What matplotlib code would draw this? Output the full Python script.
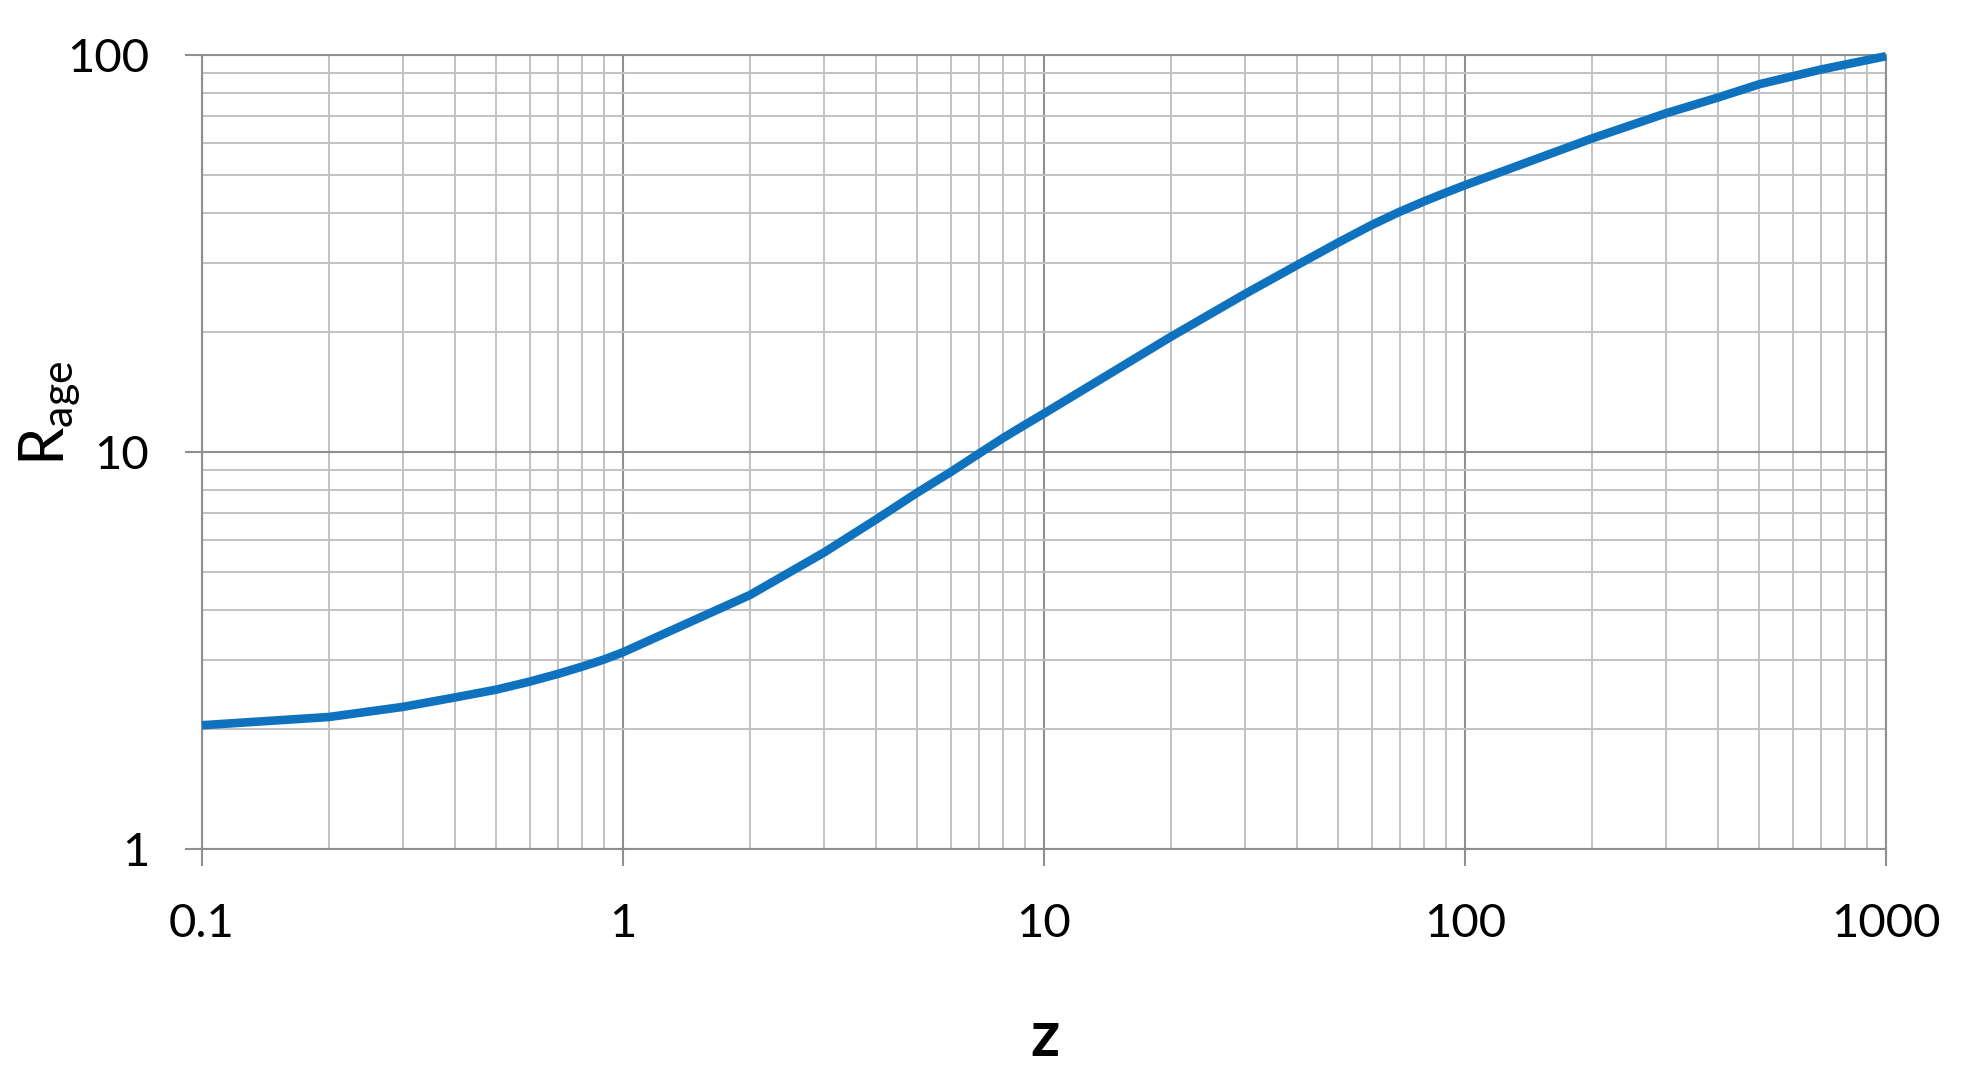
import matplotlib
matplotlib.use("Agg")
import matplotlib.pyplot as plt
from matplotlib.ticker import LogLocator, NullFormatter, FixedLocator, FixedFormatter

# ---- data ----
z_values = [0.1, 0.2, 0.3, 0.4, 0.5, 0.6, 0.7, 0.8, 0.9, 1,
            2, 3, 4, 5, 6, 7, 8, 9, 10,
            20, 30, 40, 50, 60, 70, 80, 90, 100,
            200, 300, 400, 500, 700, 1000]
r_age = [2.05, 2.15, 2.28, 2.41, 2.52, 2.64, 2.76, 2.88, 3.00, 3.13,
         4.36, 5.58, 6.77, 7.90, 8.90, 9.90, 10.85, 11.70, 12.50,
         19.5, 25.0, 29.6, 33.7, 37.3, 40.3, 42.8, 45.0, 47.0,
         61.6, 71.3, 78.2, 84.4, 91.9, 99.3]
x_ticks = [0.1, 1, 10, 100, 1000]
x_tick_labels = ["0.1", "1", "10", "100", "1000"]
y_ticks = [1, 10, 100]
y_tick_labels = ["1", "10", "100"]

plt.rcParams['font.family'] = ['Lato', 'DejaVu Sans']
plt.rcParams['mathtext.fontset'] = 'custom'
plt.rcParams['mathtext.rm'] = 'Lato'
plt.rcParams['mathtext.it'] = 'Lato'

W, H = 1964, 1086
fig = plt.figure(figsize=(W / 100, H / 100), dpi=100)
ax = fig.add_axes([202 / W, 1 - 849 / H, (1886 - 202) / W, (849 - 55) / H])

major_c = '#8f8f8f'
minor_c = '#c2c2c2'

ax.set_xscale('log')
ax.set_yscale('log')
ax.set_xlim(0.1, 1000)
ax.set_ylim(1, 100)

ax.xaxis.set_major_locator(FixedLocator(x_ticks))
ax.xaxis.set_major_formatter(FixedFormatter(x_tick_labels))
ax.yaxis.set_major_locator(FixedLocator(y_ticks))
ax.yaxis.set_major_formatter(FixedFormatter(y_tick_labels))
ax.xaxis.set_minor_locator(LogLocator(base=10, subs=range(2, 10), numticks=20))
ax.yaxis.set_minor_locator(LogLocator(base=10, subs=range(2, 10), numticks=20))
ax.xaxis.set_minor_formatter(NullFormatter())
ax.yaxis.set_minor_formatter(NullFormatter())

ax.grid(which='minor', color=minor_c, linewidth=1.4, zorder=0)
ax.grid(which='major', color=major_c, linewidth=1.5, zorder=0)
ax.set_axisbelow(True)

for s in ax.spines.values():
    s.set_color(major_c)
    s.set_linewidth(1.5)

ax.tick_params(which='major', length=12, width=1.5, color=major_c,
               labelsize=34, labelcolor='black', direction='out')
ax.tick_params(axis='x', which='major', pad=27)
ax.tick_params(axis='y', which='major', pad=26)
ax.tick_params(which='minor', length=0)

ax.plot(z_values, r_age, color='#0F72BE', linewidth=6.2,
        solid_capstyle='butt', solid_joinstyle='round', zorder=3, clip_on=False)

fig.text(1045 / W, 1 - 1037 / H, 'z', fontsize=46, fontweight='bold',
         ha='center', va='center')
fig.text(50 / W, 1 - 413 / H, r'$\mathregular{R_{age}}$', fontsize=44,
         rotation=90, ha='center', va='center')

fig.savefig('out.png', dpi=100, facecolor='white')
